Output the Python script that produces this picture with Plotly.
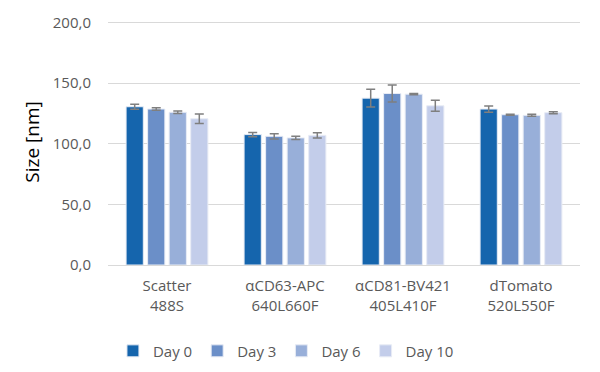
import plotly.graph_objects as go

categories = ["Scatter<br>488S", "αCD63-APC<br>640L660F", "αCD81-BV421<br>405L410F", "dTomato<br>520L550F"]
series_names = ["Day 0", "Day 3", "Day 6", "Day 10"]
values = {
    "Day 0": [130.6, 107.6, 137.7, 128.7],
    "Day 3": [128.7, 106.2, 141.5, 124.0],
    "Day 6": [126.0, 104.9, 141.0, 123.5],
    "Day 10": [120.7, 107.0, 131.4, 125.7],
}
errors = {
    "Day 0": [2.0, 1.7, 7.4, 2.6],
    "Day 3": [1.0, 2.2, 7.0, 0.4],
    "Day 6": [1.0, 1.4, 0.5, 0.8],
    "Day 10": [4.0, 2.2, 4.6, 0.8],
}
colors = ["#1565ad", "#6b8fc8", "#98afd9", "#c3cdea"]

fig = go.Figure()
for name, col in zip(series_names, colors):
    fig.add_trace(go.Bar(
        x=categories, y=values[name], name=name,
        marker=dict(color=col, line=dict(color="#e8ecf5", width=1)),
        error_y=dict(type="data", array=errors[name], color="#7f7f7f", thickness=1.5, width=4.5),
    ))

# The page body has an 8px default margin, so the layout is shifted up/left by 8px.
fig.update_layout(
    width=600, height=372,
    template="none",
    barmode="group", bargap=0.27, bargroupgap=0.2,
    paper_bgcolor="white", plot_bgcolor="white",
    margin=dict(l=100, r=28, t=11, b=115, autoexpand=False),
    separators=",.",
    font=dict(family="Open Sans", color="#595959", size=15),
    showlegend=True,
    legend=dict(orientation="h", x=0.377, xanchor="center", y=-0.35, yanchor="middle",
                font=dict(size=15, color="#595959"), itemwidth=30, traceorder="normal",
                tracegroupgap=0),
    xaxis=dict(showline=True, linecolor="#d9d9d9", linewidth=1, ticks="", automargin=False,
               showgrid=False, ticklabelstandoff=7,
               tickfont=dict(size=15, color="#595959")),
    yaxis=dict(range=[0, 203], tickvals=[0, 50, 100, 150, 200], tickformat=".1f", showgrid=True,
               gridcolor="#d9d9d9", gridwidth=1, zeroline=False, showline=False, automargin=False,
               ticks="", ticklabelstandoff=16, tickfont=dict(size=15, color="#595959"),
               title=dict(text="Size [nm]", font=dict(size=19, color="black"), standoff=8)),
)

fig.write_html("out.html")
